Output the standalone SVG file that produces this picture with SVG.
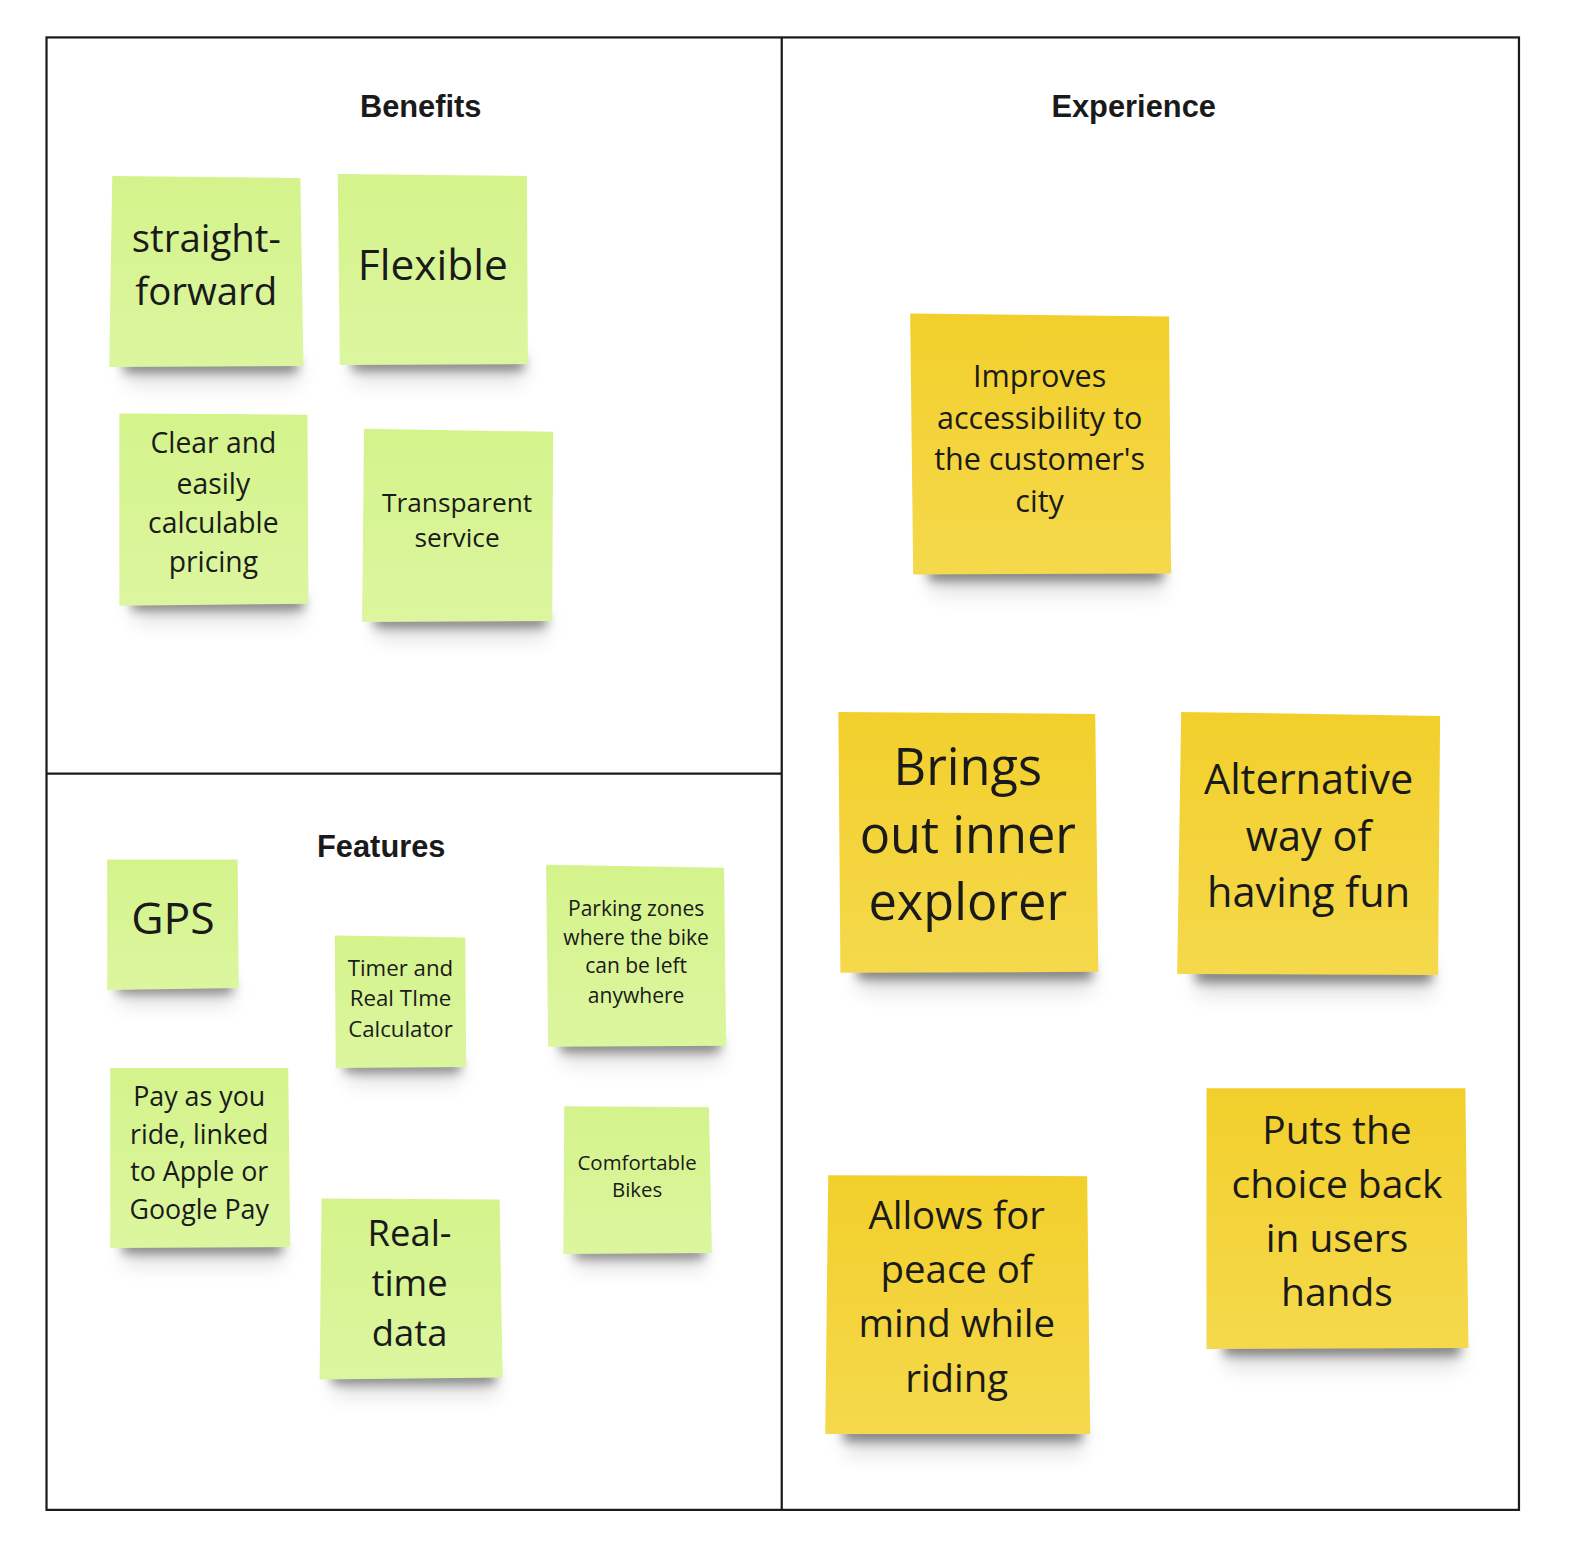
<svg xmlns="http://www.w3.org/2000/svg" width="1586" height="1553" viewBox="0 0 1586 1553">
<defs>
<linearGradient id="gG" x1="0" y1="0" x2="0" y2="1"><stop offset="0" stop-color="#d4f38b"/><stop offset="1" stop-color="#dcf69f"/></linearGradient>
<linearGradient id="gY" x1="0" y1="0" x2="0" y2="1"><stop offset="0" stop-color="#f2cf2b"/><stop offset="1" stop-color="#f5d94c"/></linearGradient>
<filter id="blur" x="-20%" y="-200%" width="140%" height="500%"><feGaussianBlur stdDeviation="5"/></filter>
<filter id="blur2" x="-20%" y="-200%" width="140%" height="500%"><feGaussianBlur stdDeviation="10"/></filter>
</defs>
<style>
.frame{fill:none;stroke:#1a1a1a;stroke-width:2.2}
.title{font-family:"Liberation Sans",Arial,sans-serif;font-weight:bold;font-size:30.5px;fill:#1a1a1a;text-anchor:middle}
.t{font-family:"Open Sans","Noto Sans",sans-serif;fill:#1a1a1a;text-anchor:middle}
.g{fill:url(#gG)}
.y{fill:url(#gY)}
.sh{fill:#000;opacity:0.45;filter:url(#blur)}
.sh2{fill:#000;opacity:0.12;filter:url(#blur2)}
</style>
<rect width="1586" height="1553" fill="#ffffff"/>
<g transform="scale(1.0113)">
<g id="frame">
<rect class="frame" x="46" y="37" width="1456" height="1456"/>
<line class="frame" x1="773" y1="37" x2="773" y2="1493"/>
<line class="frame" x1="46" y1="765" x2="773" y2="765"/>
</g>
<g id="titles">
<text class="title" x="416" y="115.5">Benefits</text>
<text class="title" x="1121" y="115.5">Experience</text>
<text class="title" x="377" y="847.5">Features</text>
</g>
<g id="connectors"></g>

<g id="n-straightforward">
<rect class="sh2" x="125" y="350" width="170" height="30"/>
<rect class="sh" x="122" y="356" width="172" height="12"/>
<polygon class="g" points="111,174 297,176 300,362 108,363"/>
<text class="t" font-size="38" x="204" y="249">straight-</text>
<text class="t" font-size="38" x="204" y="302">forward</text>
</g>
<g id="n-flexible">
<rect class="sh2" x="350" y="348" width="168" height="30"/>
<rect class="sh" x="348" y="354" width="170" height="12"/>
<polygon class="g" points="334,172 521,174 522,360 336,361"/>
<text class="t" font-size="42" x="428" y="277">Flexible</text>
</g>
<g id="n-clear">
<rect class="sh2" x="132" y="585" width="168" height="30"/>
<rect class="sh" x="130" y="591" width="170" height="12"/>
<polygon class="g" points="118,409 304,410 305,597 118,599"/>
<text class="t" font-size="28" x="211" y="448">Clear and</text>
<text class="t" font-size="28" x="211" y="488">easily</text>
<text class="t" font-size="28" x="211" y="527">calculable</text>
<text class="t" font-size="28" x="211" y="566">pricing</text>
</g>
<g id="n-transparent">
<rect class="sh2" x="372" y="602" width="168" height="30"/>
<rect class="sh" x="370" y="608" width="170" height="12"/>
<polygon class="g" points="360,424 547,427 546,614 358,615"/>
<text class="t" font-size="26" x="452" y="506">Transparent</text>
<text class="t" font-size="26" x="452" y="541">service</text>
</g>

<g id="n-gps">
<rect class="sh2" x="118" y="965" width="112" height="28"/>
<rect class="sh" x="116" y="971" width="114" height="11"/>
<polygon class="g" points="106,850 235,850 236,977 106,979"/>
<text class="t" font-size="44" x="171" y="924">GPS</text>
</g>
<g id="n-timer">
<rect class="sh2" x="343" y="1043" width="112" height="28"/>
<rect class="sh" x="341" y="1049" width="114" height="11"/>
<polygon class="g" points="331,925 460,927 461,1055 332,1056"/>
<text class="t" font-size="22" x="396" y="965">Timer and</text>
<text class="t" font-size="22" x="396" y="995">Real TIme</text>
<text class="t" font-size="22" x="396" y="1025">Calculator</text>
</g>
<g id="n-parking">
<rect class="sh2" x="556" y="1022" width="156" height="30"/>
<rect class="sh" x="554" y="1028" width="158" height="12"/>
<polygon class="g" points="540,855 716,858 718,1034 542,1035"/>
<text class="t" font-size="20.8" x="629" y="906">Parking zones</text>
<text class="t" font-size="20.8" x="629" y="934">where the bike</text>
<text class="t" font-size="20.8" x="629" y="962">can be left</text>
<text class="t" font-size="20.8" x="629" y="992">anywhere</text>
</g>
<g id="n-pay">
<rect class="sh2" x="123" y="1221" width="156" height="30"/>
<rect class="sh" x="121" y="1227" width="158" height="12"/>
<polygon class="g" points="109,1056 285,1056 287,1233 109,1234"/>
<text class="t" font-size="26.5" x="197" y="1094">Pay as you</text>
<text class="t" font-size="26.5" x="197" y="1131">ride, linked</text>
<text class="t" font-size="26.5" x="197" y="1168">to Apple or</text>
<text class="t" font-size="26.5" x="197" y="1205">Google Pay</text>
</g>
<g id="n-comfortable">
<rect class="sh2" x="570" y="1227" width="126" height="28"/>
<rect class="sh" x="568" y="1233" width="128" height="11"/>
<polygon class="g" points="558,1094 701,1095 704,1239 557,1240"/>
<text class="t" font-size="20.2" x="630" y="1157">Comfortable</text>
<text class="t" font-size="20.2" x="630" y="1184">Bikes</text>
</g>
<g id="n-realtime">
<rect class="sh2" x="330" y="1350" width="160" height="30"/>
<rect class="sh" x="328" y="1356" width="162" height="12"/>
<polygon class="g" points="318,1185 494,1186 497,1362 316,1364"/>
<text class="t" font-size="36" x="405" y="1232">Real-</text>
<text class="t" font-size="36" x="405" y="1282">time</text>
<text class="t" font-size="36" x="405" y="1331">data</text>
</g>

<g id="n-improves">
<rect class="sh2" x="920" y="553" width="230" height="34"/>
<rect class="sh" x="918" y="560" width="232" height="14"/>
<polygon class="y" points="900,310 1156,313 1158,567 903,568"/>
<text class="t" font-size="30.2" x="1028" y="383">Improves</text>
<text class="t" font-size="30.2" x="1028" y="424">accessibility to</text>
<text class="t" font-size="30.2" x="1028" y="465">the customer's</text>
<text class="t" font-size="30.2" x="1028" y="506">city</text>
</g>
<g id="n-brings">
<rect class="sh2" x="850" y="947" width="230" height="34"/>
<rect class="sh" x="848" y="954" width="232" height="14"/>
<polygon class="y" points="829,704 1083,706 1086,961 831,962"/>
<text class="t" font-size="50" x="957" y="776">Brings</text>
<text class="t" font-size="50" x="957" y="843">out inner</text>
<text class="t" font-size="50" x="957" y="910">explorer</text>
</g>
<g id="n-alternative">
<rect class="sh2" x="1184" y="950" width="232" height="34"/>
<rect class="sh" x="1182" y="957" width="234" height="14"/>
<polygon class="y" points="1168,704 1424,708 1422,964 1164,963"/>
<text class="t" font-size="41" x="1294" y="785">Alternative</text>
<text class="t" font-size="41" x="1294" y="841">way of</text>
<text class="t" font-size="41" x="1294" y="897">having fun</text>
</g>
<g id="n-allows">
<rect class="sh2" x="836" y="1404" width="234" height="34"/>
<rect class="sh" x="834" y="1411" width="236" height="14"/>
<polygon class="y" points="819,1162 1075,1163 1078,1418 816,1418"/>
<text class="t" font-size="38" x="946" y="1215">Allows for</text>
<text class="t" font-size="38" x="946" y="1269">peace of</text>
<text class="t" font-size="38" x="946" y="1322">mind while</text>
<text class="t" font-size="38" x="946" y="1376">riding</text>
</g>
<g id="n-puts">
<rect class="sh2" x="1212" y="1319" width="232" height="34"/>
<rect class="sh" x="1210" y="1326" width="234" height="14"/>
<polygon class="y" points="1193,1076 1449,1076 1452,1333 1193,1334"/>
<text class="t" font-size="38.5" x="1322" y="1131">Puts the</text>
<text class="t" font-size="38.5" x="1322" y="1185">choice back</text>
<text class="t" font-size="38.5" x="1322" y="1238">in users</text>
<text class="t" font-size="38.5" x="1322" y="1291">hands</text>
</g>
</g>
</svg>
